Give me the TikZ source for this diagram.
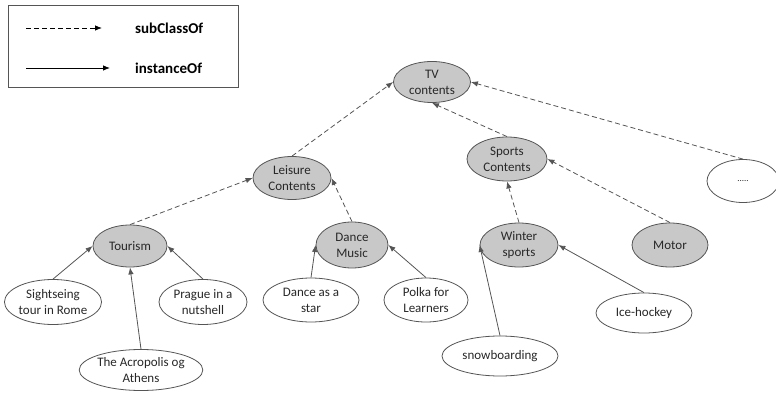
\documentclass[tikz,border=0pt]{standalone}
\usepackage{fontspec}
\setmainfont{Carlito}
\usetikzlibrary{shapes.geometric,arrows.meta}
\definecolor{fillg}{RGB}{200,200,200}
\definecolor{edgeg}{RGB}{85,85,85}
\definecolor{txtg}{RGB}{40,40,40}
\tikzset{
  base/.style={ellipse, draw=edgeg, line width=0.8pt, inner sep=0pt, align=center,
    text=txtg, font=\fontsize{13}{16}\selectfont},
  cls/.style={base, fill=fillg},
  inst/.style={base, fill=white},
  tip/.style={-{Latex[length=7pt,width=5.5pt]}},
  subc/.style={tip, draw=edgeg, line width=0.8pt, dash pattern=on 5pt off 3pt},
  insof/.style={tip, draw=edgeg, line width=0.8pt},
  legtxt/.style={font=\fontsize{15}{18}\selectfont\bfseries, text=black, anchor=west, inner sep=0pt}
}
\begin{document}
\begin{tikzpicture}[x=1pt,y=-1pt]
\useasboundingbox (0,0) rectangle (776,393);
% legend
\node[draw=edgeg, line width=0.8pt, minimum width=230pt, minimum height=82pt, inner sep=0pt] (legend) at (123,46) {};
\coordinate (l1a) at (26,28);
\coordinate (l1b) at (102,28);
\coordinate (l2a) at (26,68);
\coordinate (l2b) at (110,68);
\draw[subc, draw=black] (l1a) -- (l1b);
\draw[insof, draw=black] (l2a) -- (l2b);
\node[legtxt] (t1) at (135,28) {subClassOf};
\node[legtxt] (t2) at (135,68) {instanceOf};
% class nodes
\node[cls, minimum width=77pt, minimum height=41pt] (tv) at (432,82) {TV\\contents};
\node[cls, minimum width=78pt, minimum height=43pt] (leis) at (292,178) {Leisure\\Contents};
\node[cls, minimum width=80pt, minimum height=44pt] (sports) at (507,159) {Sports\\Contents};
\node[inst, minimum width=72pt, minimum height=43pt] (dots) at (743,181) {\fontsize{9}{10}\selectfont .....};
\node[cls, minimum width=78pt, minimum height=44pt] (winter) at (519,245) {Winter\\sports};
\node[cls, minimum width=76pt, minimum height=44pt] (motor) at (670,245) {Motor};
\node[cls, minimum width=74pt, minimum height=42pt] (tour) at (130,246) {Tourism};
\node[cls, minimum width=72pt, minimum height=46pt] (dm) at (352,245) {Dance\\Music};
% instance nodes
\node[inst, minimum width=92pt, minimum height=45pt] (rome) at (53,302) {Sightseing\\tour in Rome};
\node[inst, minimum width=88pt, minimum height=45pt] (prague) at (203,302) {Prague in a\\nutshell};
\node[inst, minimum width=98pt, minimum height=41pt] (acro) at (141,370) {The Acropolis og\\Athens};
\node[inst, minimum width=96pt, minimum height=44pt] (star) at (311,300) {Dance as a\\star};
\node[inst, minimum width=84pt, minimum height=44pt] (polka) at (426,300) {Polka for\\Learners};
\node[inst, minimum width=96pt, minimum height=40pt] (ice) at (644,313) {Ice-hockey};
\node[inst, minimum width=116pt, minimum height=40pt] (snow) at (500,356) {snowboarding};
% subClassOf
\draw[subc] (leis.north) -- (tv.west);
\draw[subc] (sports.north) -- (tv.south);
\draw[subc] (dots.north) -- (tv.east);
\draw[subc] (tour.north) -- (leis.west);
\draw[subc] (dm.north) -- (leis.east);
\draw[subc] (winter.north) -- (sports.south);
\draw[subc] (motor.north) -- (sports.east);
% instanceOf
\draw[insof] (rome.north) -- (tour.west);
\draw[insof] (prague.north) -- (tour.east);
\draw[insof] (acro.north) -- (tour.south);
\draw[insof] (star.north) -- (dm.west);
\draw[insof] (polka.north) -- (dm.east);
\draw[insof] (snow.north) -- (winter.west);
\draw[insof] (ice.north) -- (winter.east);
\end{tikzpicture}
\end{document}
